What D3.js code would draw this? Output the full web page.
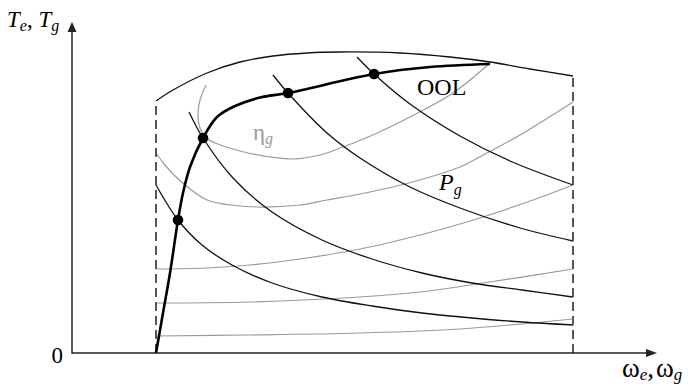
<!DOCTYPE html>
<html>
<head>
<meta charset="utf-8">
<script src="https://cdn.jsdelivr.net/npm/d3@7"></script>
<style>
  html, body { margin: 0; padding: 0; background: #fff; }
  svg { display: block; }
  text { font-family: "Liberation Serif", "Times New Roman", serif; }
</style>
</head>
<body>
<svg id="chart" width="688" height="386"></svg>
<script>
// Operating map of an engine-generator set: speed (omega) vs torque (T), arbitrary units.

// Speed limits of the operating region
const speedMin = 84;
const speedMax = 501;

// Maximum-torque envelope
const envSpeed  = [84, 101, 135, 168, 201, 235, 268, 328, 378, 418, 458, 501];
const envTorque = [252, 263, 280, 291, 297, 300, 301, 300, 296, 291, 284, 277];

// Optimal operating line (OOL)
const oolSpeed  = [84, 91, 98, 106, 111, 118, 131, 145, 163, 188, 216, 302, 358, 418];
const oolTorque = [0, 40, 80, 133, 160, 186, 215, 236, 247, 255.5, 260, 279, 286, 289];

// Operating points on the OOL
const ptSpeed  = [106, 131, 216, 302];
const ptTorque = [133, 215, 260, 279];

// Constant generator power curves P_g (highest first)
const powSpeed = [
  [285, 302, 338, 388, 438, 501],
  [201, 216, 255, 288, 338, 388, 448, 501],
  [117, 131, 161, 200, 250, 300, 350, 400, 450, 501],
  [84, 106, 130, 160, 200, 250, 300, 350, 400, 450, 501]
];
const powTorque = [
  [296, 279, 249, 217, 192, 168],
  [278, 260, 220, 195, 166, 145, 125, 112],
  [241, 215, 175, 141, 113, 94, 80, 70, 63, 56],
  [168, 133, 108, 88, 70, 56, 47, 40, 35, 31, 28]
];

// Constant generator efficiency curves eta_g (innermost first)
const effSpeed = [
  [134, 128, 126, 128, 133, 143, 168, 198, 221, 248, 271, 303, 338, 381, 418],
  [84, 93, 103, 118, 135, 158, 185, 228, 255, 288, 321, 358, 388, 415, 448, 501],
  [84, 135, 178, 228, 288, 348, 388, 411, 461, 501],
  [84, 178, 288, 348, 411, 501],
  [84, 178, 288, 388, 501]
];
const effTorque = [
  [268, 253, 238, 225, 216, 210, 202, 196, 194, 198, 206, 219, 236, 260, 290],
  [200, 188, 177, 164, 153, 148, 146, 148, 153, 159, 166, 176, 186, 200, 218, 251],
  [84, 85, 88, 94, 104, 118, 129, 136, 153, 168],
  [50, 51, 56, 61, 70, 84],
  [17, 18, 20, 24, 34]
];

// Axis extents
const speedAxisMax = 585;
const torqueAxisMax = 331;

const svg = d3.select("#chart");

const x = d3.scaleLinear().domain([0, speedAxisMax]).range([72, 657]);
const y = d3.scaleLinear().domain([0, torqueAxisMax]).range([353, 22]);

const zip = (xs, ys) => xs.map((v, i) => [v, ys[i]]);
const line = d3.line()
  .x(d => x(d[0]))
  .y(d => y(d[1]))
  .curve(d3.curveCatmullRom.alpha(0.5));

// Efficiency contours (grey)
svg.append("g")
  .selectAll("path")
  .data(effSpeed.map((s, i) => zip(s, effTorque[i])))
  .join("path")
  .attr("d", line)
  .attr("fill", "none")
  .attr("stroke", "#9a9a9a")
  .attr("stroke-width", 1.2);

// Constant power curves
svg.append("g")
  .selectAll("path")
  .data(powSpeed.map((s, i) => zip(s, powTorque[i])))
  .join("path")
  .attr("d", line)
  .attr("fill", "none")
  .attr("stroke", "#111")
  .attr("stroke-width", 1.3);

// Maximum torque envelope
svg.append("path")
  .datum(zip(envSpeed, envTorque))
  .attr("d", line)
  .attr("fill", "none")
  .attr("stroke", "#111")
  .attr("stroke-width", 1.3);

// Speed limits (dashed)
const limits = [
  [[speedMin, 0], [speedMin, envTorque[0]]],
  [[speedMax, 0], [speedMax, envTorque[envTorque.length - 1]]]
];
svg.append("g")
  .selectAll("path")
  .data(limits)
  .join("path")
  .attr("d", d3.line().x(d => x(d[0])).y(d => y(d[1])))
  .attr("fill", "none")
  .attr("stroke", "#555")
  .attr("stroke-width", 2)
  .attr("stroke-dasharray", "9,5");

// Optimal operating line
svg.append("path")
  .datum(zip(oolSpeed, oolTorque))
  .attr("d", line)
  .attr("fill", "none")
  .attr("stroke", "#000")
  .attr("stroke-width", 2.6);

svg.append("g")
  .selectAll("circle")
  .data(zip(ptSpeed, ptTorque))
  .join("circle")
  .attr("cx", d => x(d[0]))
  .attr("cy", d => y(d[1]))
  .attr("r", 5.3)
  .attr("fill", "#000");

// Axes with arrowheads
const axisColor = "#222";
svg.append("line")
  .attr("x1", x(0)).attr("y1", y(0))
  .attr("x2", x(speedAxisMax) - 8).attr("y2", y(0))
  .attr("stroke", axisColor).attr("stroke-width", 1.5);
svg.append("line")
  .attr("x1", x(0)).attr("y1", y(0) + 0.75)
  .attr("x2", x(0)).attr("y2", y(torqueAxisMax) + 6)
  .attr("stroke", axisColor).attr("stroke-width", 1.5);

svg.append("path")
  .attr("d", `M${x(speedAxisMax)},${y(0)} L${x(speedAxisMax) - 11},${y(0) - 4} L${x(speedAxisMax) - 11},${y(0) + 4} Z`)
  .attr("fill", axisColor);
svg.append("path")
  .attr("d", `M${x(0)},${y(torqueAxisMax)} L${x(0) - 4.5},${y(torqueAxisMax) + 10} L${x(0) + 4.5},${y(torqueAxisMax) + 10} Z`)
  .attr("fill", axisColor);

// Labels
const yLab = svg.append("text")
  .attr("x", 7).attr("y", 27)
  .attr("font-size", 23).attr("fill", "#000");
yLab.append("tspan").attr("font-style", "italic").text("T");
yLab.append("tspan").attr("font-style", "italic").attr("font-size", 16).attr("dy", 4).text("e");
yLab.append("tspan").attr("dy", -4).text(", ");
yLab.append("tspan").attr("font-style", "italic").text("T");
yLab.append("tspan").attr("font-style", "italic").attr("font-size", 16).attr("dy", 4).text("g");

svg.append("text")
  .attr("x", 63).attr("y", 363)
  .attr("text-anchor", "end")
  .attr("font-size", 23)
  .text("0");

const xLab = svg.append("text")
  .attr("x", 622).attr("y", 377)
  .attr("font-size", 27).attr("fill", "#000");
xLab.append("tspan").text("ω");
xLab.append("tspan").attr("font-style", "italic").attr("font-size", 17).attr("dy", 3).text("e");
xLab.append("tspan").attr("dy", -3).text(",");
xLab.append("tspan").attr("dx", 2).text("ω");
xLab.append("tspan").attr("font-style", "italic").attr("font-size", 17).attr("dy", 3).text("g");

svg.append("text")
  .attr("x", 417).attr("y", 95)
  .attr("font-size", 24)
  .text("OOL");

const pLab = svg.append("text")
  .attr("x", 439).attr("y", 190)
  .attr("font-size", 24);
pLab.append("tspan").attr("font-style", "italic").text("P");
pLab.append("tspan").attr("font-style", "italic").attr("font-size", 16).attr("dy", 5).text("g");

const eLab = svg.append("text")
  .attr("x", 253).attr("y", 140)
  .attr("font-size", 23)
  .attr("fill", "#9a9a9a");
eLab.append("tspan").text("η");
eLab.append("tspan").attr("font-style", "italic").attr("font-size", 16).attr("dy", 4).text("g");
</script>
</body>
</html>
